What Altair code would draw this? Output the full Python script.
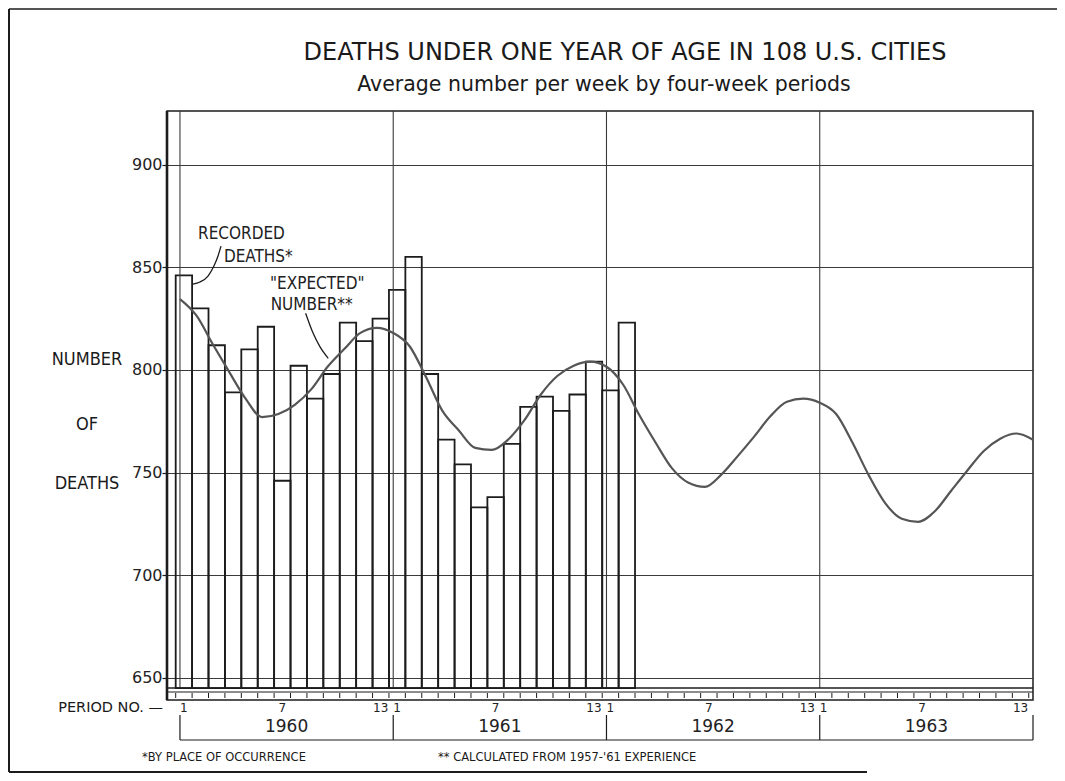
import altair as alt
import pandas as pd

# ---------------- data ----------------
years = ["1960", "1961", "1962", "1963"]
period_numbers_shown = [1, 7, 13]
y_tick_values = [650, 700, 750, 800, 850, 900]

# recorded deaths, four-week periods 1960 P1 ... 1962 P2
recorded_deaths = [846, 830, 812, 789, 810, 821, 746, 802, 786, 798, 823, 814, 825,
                   839, 855, 798, 766, 754, 733, 738, 764, 782, 787, 780, 788, 804,
                   790, 823]

# "expected" number, read at each period boundary of the year grid (1960 P1 ... end 1963)
expected_number = [834.5, 826.5, 812.5, 799, 786, 777, 778.5, 783, 790.5, 801.5, 810, 818, 820.5,
                   818, 811.5, 796.5, 780, 770.5, 762, 761, 766, 775.5, 788, 797, 802, 804,
                   801.5, 793, 778, 764.5, 752, 745, 743, 749, 758, 767.5, 777.5, 784.5, 786,
                   784, 778.5, 764.5, 748.5, 735, 727.5, 726, 731, 741, 751, 760.5, 766.5, 769, 766]

title_text = "DEATHS UNDER ONE YEAR OF AGE IN 108 U.S. CITIES"
subtitle_text = "Average number per week by four-week periods"
y_title_words = ["NUMBER", "OF", "DEATHS"]
period_axis_label = "PERIOD NO. \u2014"
footnote_1 = "*BY PLACE OF OCCURRENCE"
footnote_2 = "** CALCULATED FROM 1957-'61 EXPERIENCE"
label_recorded = ["RECORDED", "DEATHS*"]
label_expected = ['"EXPECTED"', "NUMBER**"]

# annotation leader curves (period units, deaths)
leader_recorded_t = [2.50, 2.32, 2.07, 1.71, 1.22, 0.79]
leader_recorded_v = [860.3, 855.5, 850.6, 845.7, 842.8, 841.8]
leader_expected_t = [7.66, 8.12, 8.53, 9.04]
leader_expected_v = [827.6, 817.8, 811.3, 805.6]

# ---------------- layout / style ----------------
PER_YEAR = 13
BAR_SHIFT = -0.26
X_DOMAIN = [-0.79, 52.0]
Y_DOMAIN = [639.2, 926.1]
BAR_BASE = 645
W, H = 866, 589
INK = "#1c1c1c"
GRID = "#3a3a3a"
FONT = "DejaVu Sans"
NARROW = "Liberation Sans Narrow, DejaVu Sans Condensed, DejaVu Sans"

x_scale = alt.Scale(domain=X_DOMAIN, nice=False, zero=False)
y_scale = alt.Scale(domain=Y_DOMAIN, nice=False, zero=False)
y_axis = alt.Axis(values=y_tick_values, grid=True, gridColor=GRID, gridWidth=1,
                  gridOpacity=1, domain=False, ticks=True, tickColor=INK, tickSize=5,
                  tickWidth=1.2, labelFont=FONT, labelFontSize=16, labelColor="#222",
                  labelPadding=0)

# ---------------- tables ----------------
bars_df = pd.DataFrame({"idx": list(range(len(recorded_deaths))), "value": recorded_deaths})
bars_df["t0"] = bars_df["idx"] + BAR_SHIFT
bars_df["t1"] = bars_df["t0"] + 1
bars_df["base"] = BAR_BASE
bars_df["year"] = [years[i // PER_YEAR] for i in bars_df["idx"]]
bars_df["period"] = [i % PER_YEAR + 1 for i in bars_df["idx"]]

exp_df = pd.DataFrame({"t": list(range(len(expected_number))), "value": expected_number})

n_periods = PER_YEAR * len(years)
year_df = pd.DataFrame({"t": [PER_YEAR * i for i in range(len(years))],
                        "mid": [PER_YEAR * i + PER_YEAR / 2 for i in range(len(years))],
                        "year": years})
bracket_df = pd.DataFrame({"t": [PER_YEAR * i for i in range(len(years) + 1)]})
span_df = pd.DataFrame({"t0": [0], "t1": [n_periods]})
ticks_df = pd.DataFrame({"t": [k + BAR_SHIFT for k in range(n_periods + 1)]})
plab_df = pd.DataFrame([{"t": PER_YEAR * y + p - 0.5 + BAR_SHIFT, "label": str(p)}
                        for y in range(len(years)) for p in period_numbers_shown])
leader_df = pd.DataFrame({
    "t": leader_recorded_t + leader_expected_t,
    "value": leader_recorded_v + leader_expected_v,
    "which": ["rec"] * len(leader_recorded_t) + ["exp"] * len(leader_expected_t),
    "order": list(range(len(leader_recorded_t))) + list(range(len(leader_expected_t))),
})
ann_df = pd.DataFrame({
    "t": [1.10, 2.68, 5.49, 5.53],
    "value": [866.0, 855.0, 841.8, 831.6],
    "text": label_recorded + label_expected,
})
one = pd.DataFrame({"k": [0]})


def X(f):
    return alt.X(f, scale=x_scale, axis=None)


def Y(f):
    return alt.Y(f, scale=y_scale, title=None, axis=y_axis)


# ---------------- layers ----------------
bars = alt.Chart(bars_df).mark_rect(fill="transparent", stroke=INK, strokeWidth=1.8).encode(
    x=X("t0:Q"), x2="t1:Q", y=Y("value:Q"), y2="base:Q")

curve = alt.Chart(exp_df).mark_line(color="#555", strokeWidth=2.2, interpolate="monotone").encode(
    x=X("t:Q"), y=Y("value:Q"))

year_lines = alt.Chart(year_df).mark_rule(color=GRID, strokeWidth=1.1).encode(
    x=X("t:Q"), y=alt.value(0), y2=alt.value(577))

left_frame = alt.Chart(one).mark_rule(color=INK, strokeWidth=2.6).encode(
    x=alt.value(0), y=alt.value(0), y2=alt.value(H))

strip_a = alt.Chart(one).mark_rule(color=INK, strokeWidth=1.4).encode(
    x=alt.value(0), x2=alt.value(W), y=alt.value(577))
strip_b = alt.Chart(one).mark_rule(color=INK, strokeWidth=1.2).encode(
    x=alt.value(0), x2=alt.value(W), y=alt.value(581))
period_ticks = alt.Chart(ticks_df).mark_rule(color=INK, strokeWidth=1).encode(
    x=X("t:Q"), y=alt.value(582), y2=alt.value(587))

period_labels = alt.Chart(plab_df).mark_text(font=FONT, fontSize=12, color="#222").encode(
    x=X("t:Q"), y=alt.value(597), text="label:N")

bracket_v = alt.Chart(bracket_df).mark_rule(color=INK, strokeWidth=1.2).encode(
    x=X("t:Q"), y=alt.value(604), y2=alt.value(629))
bracket_h = alt.Chart(span_df).mark_rule(color=INK, strokeWidth=1.2).encode(
    x=X("t0:Q"), x2="t1:Q", y=alt.value(629))
year_labels = alt.Chart(year_df).mark_text(font=FONT, fontSize=17, color="#222").encode(
    x=X("mid:Q"), y=alt.value(616), text="year:N")

leaders = alt.Chart(leader_df).mark_line(color=INK, strokeWidth=1.3, interpolate="monotone").encode(
    x=X("t:Q"), y=Y("value:Q"), detail="which:N", order="order:Q")
ann_text = alt.Chart(ann_df).mark_text(font=NARROW, fontSize=17, color="#222", align="left").encode(
    x=X("t:Q"), y=Y("value:Q"), text="text:N")


def label(text, x, y, size, font=FONT, align="center"):
    return alt.Chart(one).mark_text(font=font, fontSize=size, color="#1a1a1a", align=align,
                                    baseline="middle").encode(
        x=alt.value(x), y=alt.value(y), text=alt.value(text))


title = label(title_text, 458, -58, 24)
subtitle = label(subtitle_text, 437, -26, 20.5)
ytitles = [label(w, -80, yy, 18, font=NARROW) for w, yy in zip(y_title_words, [249, 314, 373])]
period_name = label(period_axis_label, -4, 597, 14.5, align="right")
fn1 = label(footnote_1, -25, 647, 11.5, align="left")
fn2 = label(footnote_2, 271, 647, 11.5, align="left")

outer_left = alt.Chart(one).mark_rule(color=INK, strokeWidth=2).encode(
    x=alt.value(-158), y=alt.value(-102), y2=alt.value(661))
outer_top = alt.Chart(one).mark_rule(color=INK, strokeWidth=1.5).encode(
    x=alt.value(-158), x2=alt.value(W + 24), y=alt.value(-102))
outer_bottom = alt.Chart(one).mark_rule(color=INK, strokeWidth=2).encode(
    x=alt.value(-158), x2=alt.value(700), y=alt.value(661))

chart = alt.layer(
    bars, year_lines, curve, strip_a, strip_b, period_ticks, left_frame,
    period_labels, bracket_v, bracket_h, year_labels, leaders, ann_text,
    title, subtitle, *ytitles, period_name, fn1, fn2,
    outer_left, outer_top, outer_bottom,
).properties(
    width=W, height=H,
    autosize=alt.AutoSizeParams(type="none"),
    padding={"left": 159, "top": 103, "right": 24, "bottom": 73},
    background="white",
).configure_view(stroke=INK, strokeWidth=1.5)

chart.save("out.html", embed_options={"renderer": "svg", "actions": False})
